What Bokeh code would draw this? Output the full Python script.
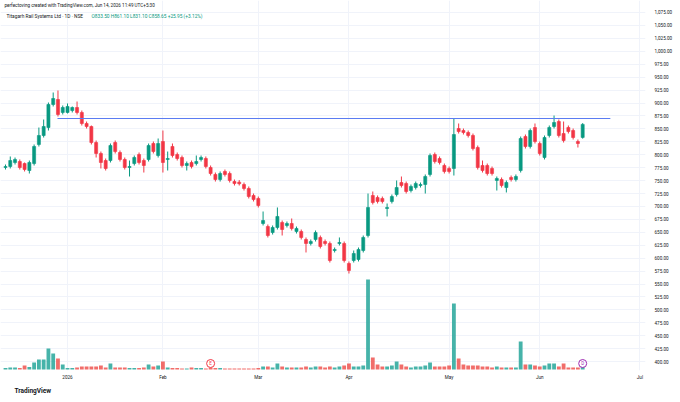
from bokeh.plotting import figure
from bokeh.models import Range1d, FixedTicker, NumeralTickFormatter, Label, ColumnDataSource, Title
from bokeh.core.properties import value
from bokeh.embed import file_html
from bokeh.resources import INLINE

# ---- data ----
opens = [
    775.3, 777.2, 785.0, 786.9, 783.0, 769.5, 783.0, 819.8, 837.2, 852.6,
    897.1, 906.8, 881.7, 881.7, 885.5, 891.3, 881.7, 860.4, 854.6, 823.6,
    802.4, 788.8, 788.8, 823.6, 804.3, 790.8, 775.3, 783.0, 800.4, 788.8,
    790.8, 821.7, 798.5, 825.6, 790.8, 815.9, 800.4, 794.6, 779.2, 785.0,
    783.0, 790.8, 792.7, 775.3, 761.8, 752.1, 767.6, 763.7, 748.2, 747.0,
    742.4, 734.7, 721.2, 715.4, 667.0, 661.2, 649.6, 659.3, 669.0, 663.2,
    667.0, 651.6, 651.6, 636.1, 628.4, 636.1, 640.0, 632.2, 628.4, 614.8,
    628.4, 628.4, 589.7, 595.5, 597.4, 614.8, 643.8, 721.2, 717.3, 715.4,
    696.0, 709.6, 723.1, 746.3, 744.4, 730.8, 736.6, 740.5, 742.4, 761.8,
    800.4, 792.7, 779.2, 773.4, 773.4, 850.7, 846.8, 843.0, 837.2, 814.0,
    779.2, 779.2, 773.4, 750.2, 752.1, 736.6, 756.0, 752.1, 769.5, 835.2,
    815.9, 852.6, 821.7, 794.6, 837.2, 854.6, 864.2, 841.0, 852.6, 846.8,
    825.6, 833.50,
]
highs = [
    781.1, 796.6, 794.6, 790.8, 785.0, 788.8, 819.8, 852.6, 868.1, 901.0,
    920.3, 924.2, 895.2, 899.1, 893.3, 902.9, 885.5, 864.2, 856.5, 827.5,
    806.2, 792.7, 821.7, 827.5, 808.2, 794.6, 788.8, 798.5, 804.3, 792.7,
    821.7, 825.6, 831.4, 846.8, 806.2, 821.7, 804.3, 798.5, 786.9, 788.8,
    798.5, 798.5, 796.6, 779.2, 765.6, 767.6, 771.4, 767.6, 752.1, 751.0,
    746.3, 738.6, 725.0, 719.2, 690.2, 665.1, 663.2, 698.0, 672.8, 670.9,
    676.7, 661.2, 655.4, 640.0, 636.1, 653.5, 643.8, 636.1, 632.2, 620.6,
    640.0, 632.2, 593.6, 614.8, 620.6, 643.8, 725.0, 728.9, 721.2, 719.2,
    705.7, 723.1, 750.2, 757.9, 748.2, 742.4, 748.2, 746.3, 761.8, 802.4,
    804.3, 796.6, 783.0, 777.2, 870.0, 860.4, 850.7, 846.8, 841.0, 817.8,
    788.8, 783.0, 777.2, 757.9, 756.0, 750.2, 759.8, 761.8, 835.2, 839.1,
    850.7, 860.4, 825.6, 837.2, 856.5, 875.8, 868.1, 864.2, 856.5, 850.7,
    829.4, 861.10,
]
lows = [
    771.4, 773.4, 781.1, 771.4, 767.6, 763.7, 779.2, 815.9, 833.3, 846.8,
    893.3, 873.9, 877.8, 879.7, 881.7, 877.8, 856.5, 850.7, 819.8, 794.6,
    773.4, 769.5, 785.0, 802.4, 786.9, 771.4, 757.9, 779.2, 781.1, 765.6,
    786.9, 802.4, 794.6, 765.6, 769.5, 794.6, 788.8, 775.3, 769.5, 773.4,
    779.2, 786.9, 773.4, 759.8, 748.2, 748.2, 757.9, 746.3, 740.5, 740.5,
    730.8, 715.4, 709.6, 698.0, 663.2, 640.0, 645.7, 655.4, 643.8, 659.3,
    653.5, 647.7, 636.1, 611.0, 624.5, 632.2, 618.7, 624.5, 591.6, 611.0,
    624.5, 591.6, 570.3, 591.6, 593.6, 611.0, 640.0, 703.8, 705.7, 705.7,
    680.6, 705.7, 719.2, 736.6, 725.0, 727.0, 732.7, 736.6, 725.0, 757.9,
    783.0, 781.1, 763.7, 763.7, 759.8, 841.0, 839.1, 833.3, 808.2, 771.4,
    765.6, 759.8, 759.8, 730.8, 736.6, 727.0, 748.2, 748.2, 765.6, 812.0,
    812.0, 821.7, 798.5, 790.8, 833.3, 850.7, 833.3, 823.6, 841.0, 829.4,
    814.0, 831.10,
]
closes = [
    777.2, 788.8, 790.8, 775.3, 771.4, 785.0, 815.9, 837.2, 854.6, 897.1,
    908.7, 877.8, 891.3, 893.3, 891.3, 881.7, 860.4, 854.6, 823.6, 802.4,
    785.0, 773.4, 817.8, 806.2, 790.8, 775.3, 777.2, 794.6, 785.0, 779.2,
    817.8, 806.2, 821.7, 785.0, 792.7, 798.5, 792.7, 779.2, 783.0, 777.2,
    786.9, 794.6, 777.2, 763.7, 752.1, 763.7, 761.8, 750.2, 744.4, 744.0,
    734.7, 719.2, 713.4, 701.8, 672.8, 643.8, 659.3, 680.6, 655.4, 667.0,
    657.4, 657.4, 640.0, 628.4, 632.2, 649.6, 622.6, 628.4, 595.5, 616.8,
    630.3, 595.5, 576.2, 609.0, 616.8, 640.0, 698.0, 707.6, 709.6, 709.6,
    698.0, 719.2, 736.6, 740.5, 728.9, 738.6, 744.4, 742.4, 757.9, 798.5,
    786.9, 785.0, 767.6, 767.6, 839.1, 844.9, 843.0, 837.2, 812.0, 775.3,
    769.5, 763.7, 763.7, 754.0, 740.5, 746.3, 752.1, 757.9, 831.4, 815.9,
    846.8, 825.6, 802.4, 833.3, 852.6, 862.3, 837.2, 827.5, 844.9, 833.3,
    821.7, 858.65,
]
# volume in millions of shares
volumes_m = [
    0.43, 0.57, 0.57, 0.43, 1.14, 0.71, 2.00, 2.86, 2.86, 6.00,
    4.57, 3.14, 1.43, 0.43, 0.43, 0.57, 0.86, 0.86, 0.86, 0.86,
    1.14, 0.57, 1.71, 0.57, 0.57, 0.57, 0.43, 0.43, 0.43, 0.57,
    1.43, 0.86, 1.14, 2.29, 0.57, 0.43, 0.43, 0.29, 0.29, 0.57,
    0.43, 0.43, 0.29, 0.57, 0.43, 0.43, 0.29, 0.29, 0.29, 0.29,
    0.29, 0.29, 0.29, 0.43, 0.86, 0.86, 0.57, 1.71, 0.86, 0.57,
    0.57, 0.57, 0.57, 0.86, 0.57, 0.86, 0.86, 0.57, 0.86, 0.57,
    0.86, 1.14, 1.71, 0.86, 0.86, 1.14, 25.71, 3.43, 1.43, 0.86,
    0.86, 1.14, 2.29, 1.43, 0.86, 0.57, 0.86, 0.86, 1.14, 2.00,
    0.86, 0.86, 0.86, 1.14, 18.86, 3.14, 1.43, 1.14, 1.14, 1.14,
    0.86, 0.86, 0.57, 0.86, 0.57, 0.57, 0.57, 0.57, 8.00, 1.43,
    1.43, 1.14, 0.86, 1.14, 1.71, 1.71, 0.86, 1.71, 0.57, 0.57,
    0.57, 0.99462,
]
month_ticks = [13, 33, 53, 72, 93, 112, 133]
month_labels = ["2026", "Feb", "Mar", "Apr", "May", "Jun", "Jul"]
price_ticks = [400, 425, 450, 475, 500, 525, 550, 575, 600, 625, 650, 675, 700,
               725, 750, 775, 800, 825, 850, 875, 900, 925, 950, 975, 1000,
               1025, 1050, 1075]
resistance_x = [10.9, 126.8]
resistance_y = [870.0, 870.0]
event_bars = [43, 121]
event_letters = ["E", "D"]
event_colors = ["#F23645", "#9c27b0"]

UP, DOWN = "#089981", "#F23645"
VUP, VDOWN = "#26a69a", "#ef5350"
FONT = "Roboto"

idx = list(range(len(opens)))
up = [c >= o for o, c in zip(opens, closes)]
src = ColumnDataSource(dict(
    x=idx, o=opens, h=highs, l=lows, c=closes, v=volumes_m,
    top=[max(o, c) for o, c in zip(opens, closes)],
    bot=[min(o, c) for o, c in zip(opens, closes)],
    col=[UP if u else DOWN for u in up],
    vcol=[VUP if u else VDOWN for u in up],
))

p = figure(width=680, height=402, output_backend="svg", toolbar_location=None,
           x_range=Range1d(-1.048, 134.17), y_range=Range1d(382.8, 1098.2),
           y_axis_location="right", min_border_left=0, min_border_right=35,
           min_border_top=0, min_border_bottom=32, outline_line_color=None,
           background_fill_color="white", border_fill_color="white")
p.extra_y_ranges = {"vol": Range1d(-0.286, 105.43)}

# volume
p.vbar(x="x", width=0.8, top="v", bottom=0, y_range_name="vol", source=src,
       fill_color="vcol", line_color=None, fill_alpha=0.85)
# candles
p.segment(x0="x", y0="l", x1="x", y1="h", source=src, line_color="col", line_width=1)
p.vbar(x="x", width=0.64, top="top", bottom="bot", source=src,
       fill_color="col", line_color="col", line_width=0.6)
# resistance ray
p.line(resistance_x, resistance_y, line_color="#5b7cf2", line_width=1.2)

# event markers near volume base
ev_y = [1.71] * len(event_bars)
p.scatter(event_bars, ev_y, y_range_name="vol", size=8, marker="circle",
          fill_color="white", line_color=event_colors, line_width=1)
p.text(event_bars, ev_y, text=event_letters, y_range_name="vol",
       text_color=event_colors, text_font_size="4.5px", text_font=value(FONT),
       text_align="center", text_baseline="middle")

# axes
ya = p.yaxis[0]
ya.ticker = FixedTicker(ticks=price_ticks)
ya.formatter = NumeralTickFormatter(format="0,0.00")
ya.axis_line_color = None
ya.major_tick_line_color = None
ya.minor_tick_line_color = None
ya.major_tick_out = 0
ya.major_tick_in = 0
ya.minor_tick_out = 0
ya.major_label_standoff = 9
ya.major_label_text_font_size = "4.6px"
ya.major_label_text_font = FONT
ya.major_label_text_color = "#131722"

xa = p.xaxis[0]
xa.ticker = FixedTicker(ticks=month_ticks)
xa.major_label_overrides = {t: s for t, s in zip(month_ticks, month_labels)}
xa.axis_line_color = None
xa.major_tick_line_color = None
xa.minor_tick_line_color = None
xa.major_tick_out = 0
xa.major_tick_in = 0
xa.minor_tick_out = 0
xa.major_label_standoff = 4
xa.major_label_text_font_size = "4.6px"
xa.major_label_text_font = FONT
xa.major_label_text_color = "#131722"

p.xgrid.grid_line_color = "#f0f3fa"
p.ygrid.grid_line_color = "#f0f3fa"

# TradingView wordmark under the time scale
p.add_layout(Title(text="TradingView", align="left", offset=14, standoff=5,
                   text_font_size="6.5px", text_font=FONT, text_font_style="bold",
                   text_color="#131722"), "below")

# header / legend / badges
def lab(x, y, text, size, color, bold=False, bg=None):
    kw = dict(x=x, y=y, x_units="screen", y_units="screen", text=text,
              text_font_size=size, text_color=color, text_font=FONT,
              text_baseline="middle")
    if bold:
        kw["text_font_style"] = "bold"
    if bg:
        kw["background_fill_color"] = bg
        kw["padding"] = 1
    p.add_layout(Label(**kw))

lab(4, 365, "perfectoving created with TradingView.com, Jun 14, 2026 11:49 UTC+5:30", "4.6px", "#131722")
lab(6, 354.5, "Titagarh Rail Systems Ltd · 1D · NSE", "4.8px", "#131722")
lab(91, 354.5, "O833.50 H861.10 L831.10 C858.65 +25.95 (+3.12%)", "4.8px", UP)
lab(653, 246, "858.65", "4.6px", "white", bg=UP)
lab(653, 5, "994.62K", "4.6px", "white", bg=UP)

open("out.html", "w").write(file_html(p, INLINE))
